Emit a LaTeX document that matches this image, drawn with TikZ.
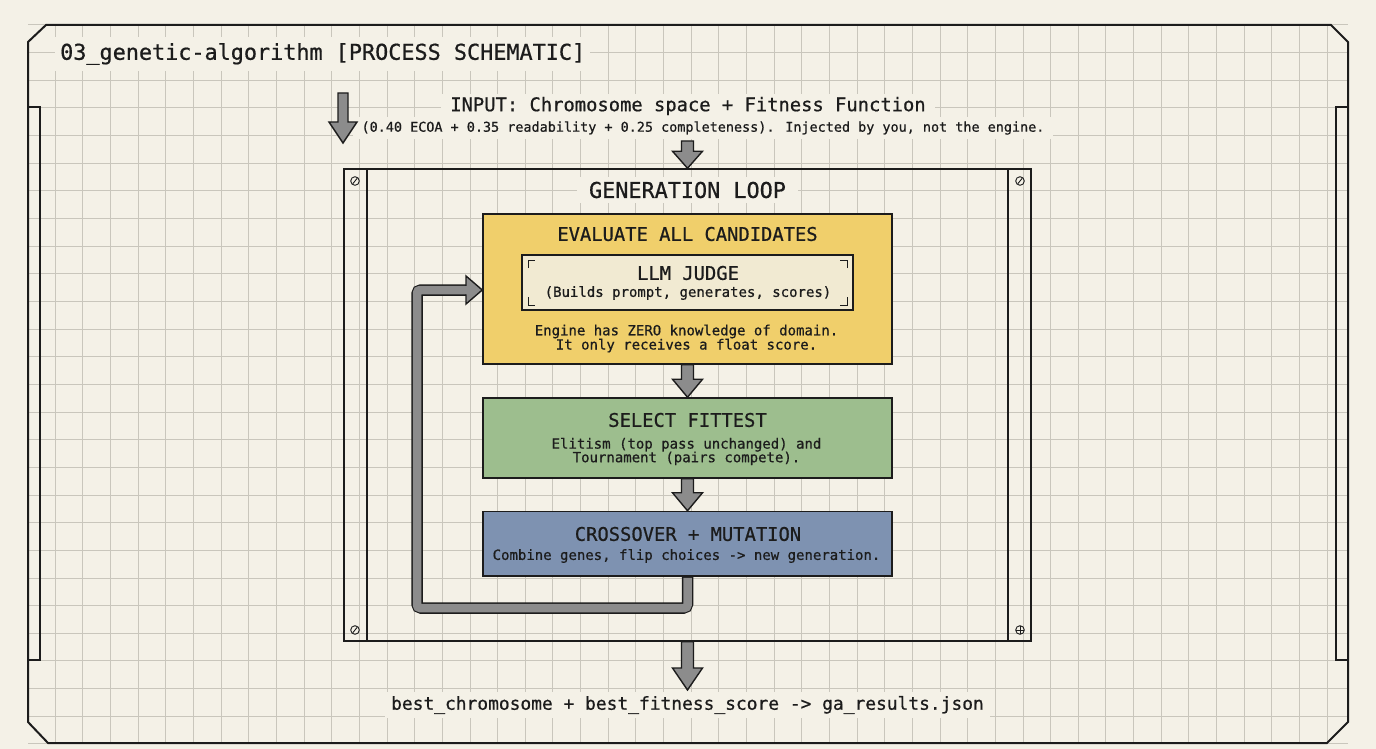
\documentclass[tikz,border=0pt]{standalone}
\usepackage{fontspec}
\newfontfamily\gmono[FakeBold=0.7]{DejaVu Sans Mono}
\usetikzlibrary{calc}
\definecolor{paper}{HTML}{F4F1E7}
\definecolor{gridc}{HTML}{C9C6BC}
\definecolor{ink}{HTML}{1C1C1C}
\definecolor{yel}{HTML}{F0CF6B}
\definecolor{judgefill}{HTML}{F1EAD2}
\definecolor{grn}{HTML}{9DBE8E}
\definecolor{blu}{HTML}{7E92B1}
\definecolor{pipe}{HTML}{8C8C8C}
\newcommand\ftitle{\gmono\fontsize{21.8}{26}\selectfont}
\newcommand\fhead{\gmono\fontsize{18.8}{22}\selectfont}
\newcommand\fbottom{\gmono\fontsize{17.9}{21}\selectfont}
\newcommand\fsmall{\gmono\fontsize{14}{17}\selectfont}
\newcommand\fsubin{\gmono\fontsize{13.45}{16}\selectfont}
\newcommand\blkarrow[5]{%
  \path[blockarrow] let \p1=(#1), \p2=(#2) in
    (\x1-#3pt,\y1) -- (\x1+#3pt,\y1) -- (\x1+#3pt,\y2+#5pt) -- (\x1+#4pt,\y2+#5pt)
    -- (\x1,\y2) -- (\x1-#4pt,\y2+#5pt) -- (\x1-#3pt,\y2+#5pt) -- cycle;}
\tikzset{
  blockarrow/.style={fill=pipe, draw=ink, line width=1.4pt, line join=miter},
  lbl/.style={text=ink, inner sep=0pt},
  bgtxt/.style={text=ink, fill=paper, inner xsep=9pt, inner ysep=3pt},
  stagebox/.style={draw=ink, line width=1.5pt, inner sep=0pt},
  screw/.style={draw=ink, line width=0.9pt},
}
\begin{document}
\begin{tikzpicture}[x=1pt,y=-1pt]
\useasboundingbox (0,0) rectangle (1376,749);
\fill[paper] (0,0) rectangle (1376,749);
% grid
\begin{scope}
\clip (28,25) rectangle (1348,743);
\foreach \i in {0,...,47} \draw[gridc, line width=1pt] ({27.6+27.65*\i},25) -- ({27.6+27.65*\i},743);
\foreach \j in {0,...,26} \draw[gridc, line width=1pt] (28,{25+27.65*\j}) -- (1348,{25+27.65*\j});
\end{scope}
% outer frame
\draw[ink, line width=2pt, line join=miter]
  (46,25) -- (1331,25) -- (1348,42) -- (1348,722) -- (1327,743) -- (48,743) -- (28,722) -- (28,42) -- cycle;
\draw[ink, line width=1.5pt] (28,107) -- (40,107) -- (40,660) -- (28,660);
\draw[ink, line width=1.5pt] (1348,107) -- (1336,107) -- (1336,660) -- (1348,660);
% title
\node[bgtxt, anchor=west, inner xsep=5pt, inner ysep=6pt] (title) at (55,54) {\ftitle 03\_genetic-algorithm [PROCESS SCHEMATIC]};
% input
\node[bgtxt, inner ysep=4pt] (insub) at (703,128) {\fsubin (0.40 ECOA + 0.35 readability + 0.25 completeness). Injected by you, not the engine.};
\node[bgtxt] (input) at (688,106) {\fhead INPUT: Chromosome space + Fitness Function};
\coordinate (inA) at (343,93);
\coordinate (inB) at (343,143);
\blkarrow{inA}{inB}{5}{14}{21}
% generation loop frame
\node[stagebox, minimum width=687pt, minimum height=472pt] (loop) at (687.5,405) {};
\draw[ink, line width=1.5pt] (367,169) -- (367,641);
\draw[ink, line width=1.5pt] (1008,169) -- (1008,641);
\foreach \p in {(355,181),(1020,181),(355,630)} {
  \draw[screw] \p circle (4.3pt);
  \draw[screw] \p ++(-2.3,2.8) -- ++(4.6,-5.6);
}
\draw[screw] (1020,630) circle (4.3pt);
\draw[screw] (1015.7,630) -- (1024.3,630) (1020,625.7) -- (1020,634.3);
\node[bgtxt, inner xsep=12pt, inner ysep=5pt] (loopt) at (687.5,190) {\ftitle GENERATION LOOP};
% input arrow into loop
\coordinate (a1s) at (687.5,141);
\blkarrow{a1s}{loop.north}{6}{15}{17}
% evaluate
\node[stagebox, fill=yel, minimum width=409pt, minimum height=150pt] (eval) at (687.5,289) {};
\node[lbl] (evalt) at (687.5,234) {\fhead EVALUATE ALL CANDIDATES};
\node[stagebox, fill=judgefill, minimum width=331pt, minimum height=55pt] (judge) at (687.5,282.5) {};
\draw[ink, line width=1pt] (528,268) |- (535,260) (847,268) |- (840,260)
  (528,297) |- (535,305) (847,297) |- (840,305);
\node[lbl] (judget) at (688,273) {\fhead LLM JUDGE};
\node[lbl] (judges) at (688,293) {\fsmall (Builds prompt, generates, scores)};
\node[lbl, align=center] (evalnote) at (686.5,338.5) {\fsmall Engine has ZERO knowledge of domain.\\[-0.5pt]\fsmall It only receives a float score.};
% select
\node[stagebox, fill=grn, minimum width=409pt, minimum height=80pt] (select) at (687.5,438) {};
\node[lbl] (selectt) at (687.5,420) {\fhead SELECT FITTEST};
\node[lbl, align=center] (selectn) at (686.5,451.5) {\fsmall Elitism (top pass unchanged) and\\[-1pt]\fsmall Tournament (pairs compete).};
% crossover
\node[stagebox, fill=blu, minimum width=409pt, minimum height=64.5pt] (cross) at (687.5,543.75) {};
\node[lbl] (crosst) at (688,534) {\fhead CROSSOVER + MUTATION};
\node[lbl] (crossn) at (686.5,556) {\fsmall Combine genes, flip choices -> new generation.};
% arrows between stages
\blkarrow{eval.south}{select.north}{6}{15}{18}
\blkarrow{select.south}{cross.north}{6}{15}{18}
% loop back pipe
\coordinate (p1) at (687.5,608);
\coordinate (p2) at (417,608);
\coordinate (p3) at (417,290);
\coordinate (p4) at (467,290);
\draw[ink, line width=11.5pt, rounded corners=4pt] (cross.south) -- (p1) -- (p2) -- (p3) -- (p4);
\draw[pipe, line width=8.5pt, rounded corners=3pt] ([yshift=-1pt]cross.south) -- (p1) -- (p2) -- (p3) -- ([xshift=1pt]p4);
\path[fill=pipe, draw=ink, line width=1.4pt, line join=miter]
  (466,285.75) -- (466,276) -- (eval.west |- p4) -- (466,304) -- (466,294.25);
% output
\node[bgtxt, inner xsep=6pt, inner ysep=4pt] (out) at (687.5,705) {\fbottom best\_chromosome + best\_fitness\_score -> ga\_results.json};
\coordinate (oB) at (687.5,690);
\blkarrow{loop.south}{oB}{6}{15}{22}
\end{tikzpicture}
\end{document}
